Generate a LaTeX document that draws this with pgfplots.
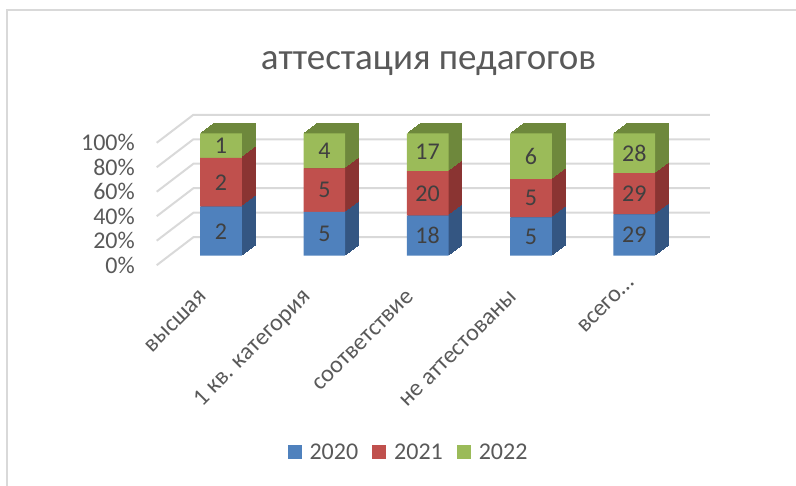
\documentclass[border=0pt]{standalone}
\usepackage{pgfplots}
\usepackage{pgfplotstable}
\pgfplotsset{compat=1.18}
\usepackage{fontspec}
\setmainfont{Carlito}
\definecolor{txt}{HTML}{595959}
\definecolor{lbl}{HTML}{404040}
\definecolor{gridc}{HTML}{D9D9D9}
\definecolor{cA}{HTML}{4F81BD}
\definecolor{cB}{HTML}{C0504D}
\definecolor{cC}{HTML}{9BBB59}
\definecolor{sA}{RGB}{52,86,130}
\definecolor{sB}{RGB}{138,52,50}
\definecolor{sC}{RGB}{110,136,60}

\pgfplotstableread{
x p1 n1 p2 n2 p3 n3 c1 c2 c3
0 40.00 2  40.00 2  20.00 1  40.00 80.00 100
1 35.71 5  35.71 5  28.57 4  35.71 71.43 100
2 32.73 18 36.36 20 30.91 17 32.73 69.09 100
3 31.25 5  31.25 5  37.50 6  31.25 62.50 100
4 33.72 29 33.72 29 32.56 28 33.72 67.44 100
}\data

\begin{document}
\begin{tikzpicture}[x=1bp,y=1bp]
\path[use as bounding box] (0,0) rectangle (796,486);
\draw[gridc, line width=2bp] (7,0) -- (7,476) -- (796,476);
\node[font=\fontsize{37bp}{44bp}\selectfont, text=txt, anchor=base, inner sep=0pt] at (428.4,416) {аттестация педагогов};

% back: grid and 3D extrusion
\begin{axis}[
  at={(169.4bp,230.3bp)}, anchor=south west, scale only axis,
  width=516.5bp, height=122.4bp,
  xmin=-0.5, xmax=4.5, ymin=0, ymax=100,
  axis lines=none, clip=false,
  ybar, bar shift=0pt, bar width=41.7bp,
]
\foreach \yy in {0,20,40,60,80,100}{
  \edef\tmp{\noexpand\draw[gridc, line width=2bp] ([xshift=-12.7bp,yshift=-9.5bp]axis cs:-0.5,\yy) -- ([xshift=24bp,yshift=18.5bp]axis cs:-0.5,\yy) -- ([xshift=24bp,yshift=18.5bp]axis cs:4.5,\yy);}
  \tmp
}
\pgfplotsinvokeforeach{10,9,...,1}{
  \addplot[fill=sC, draw=sC, line width=0.8bp, xshift=#1*1.33bp, yshift=#1*1.0bp] table[x=x,y=c3] \data;
  \addplot[fill=sB, draw=sB, line width=0.8bp, xshift=#1*1.33bp, yshift=#1*1.0bp] table[x=x,y=c2] \data;
  \addplot[fill=sA, draw=sA, line width=0.8bp, xshift=#1*1.33bp, yshift=#1*1.0bp] table[x=x,y=c1] \data;
}
\end{axis}

% front faces, labels, ticks, legend
\begin{axis}[
  at={(169.4bp,230.3bp)}, anchor=south west, scale only axis,
  width=516.5bp, height=122.4bp,
  xmin=-0.5, xmax=4.5, ymin=0, ymax=100,
  ybar stacked, bar width=41.7bp,
  axis line style={draw=none}, major tick length=0pt,
  ytick={0,20,40,60,80,100},
  yticklabel={\pgfmathprintnumber{\tick}\%},
  yticklabel style={anchor=east, inner sep=0pt, xshift=-34.4bp, yshift=-9.6bp},
  xtick={0,1,2,3,4},
  xticklabels={высшая, 1 кв. категория, соответствие, не аттестованы, всего…\hspace*{-20bp}},
  xticklabel style={xshift=-17bp, yshift=-38bp, rotate=45, anchor=east, inner sep=0pt},
  tick label style={font=\fontsize{24bp}{28bp}\selectfont, text=txt},
  /pgf/number format/assume math mode=true,
  nodes near coords, point meta=explicit symbolic,
  every node near coord/.append style={anchor=center, font=\fontsize{24bp}{28bp}\selectfont, text=lbl},
  legend style={at={(0.4629,-1.604)}, anchor=center, draw=none, legend columns=3,
    font=\fontsize{24bp}{28bp}\selectfont, text=txt,
    /tikz/every even column/.append style={column sep=12bp}},
  clip=false,
]
\addplot[fill=cA, draw=none,
  legend image code/.code={\fill[cA] (0bp,-7bp) rectangle (14bp,7bp); \path (20bp,0bp);}]
  table[x=x, y=p1, meta=n1] \data;
\addplot[fill=cB, draw=none,
  legend image code/.code={\fill[cB] (0bp,-7bp) rectangle (14bp,7bp); \path (20bp,0bp);}]
  table[x=x, y=p2, meta=n2] \data;
\addplot[fill=cC, draw=none,
  legend image code/.code={\fill[cC] (0bp,-7bp) rectangle (14bp,7bp); \path (20bp,0bp);}]
  table[x=x, y=p3, meta=n3] \data;
\legend{2020, 2021, 2022}
\end{axis}
\end{tikzpicture}
\end{document}
